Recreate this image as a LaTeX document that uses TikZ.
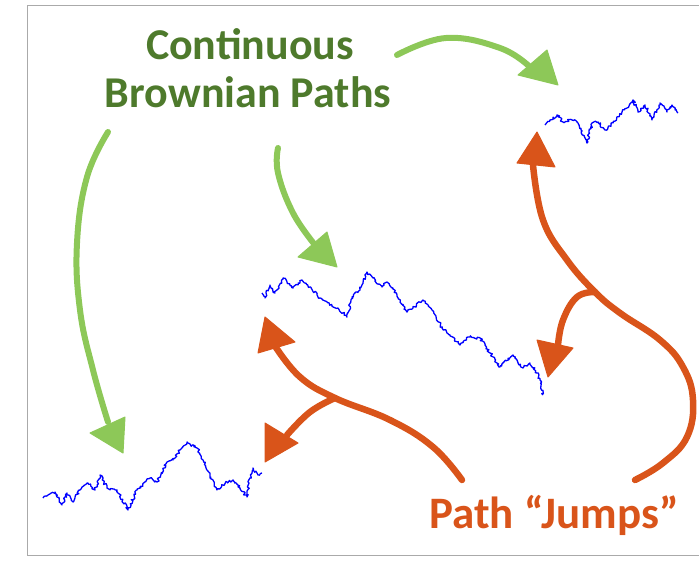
\documentclass[tikz,border=0pt]{standalone}
\usepackage{fontspec}
\setmainfont{Carlito}
\usetikzlibrary{decorations.pathmorphing}
\definecolor{arrgreen}{RGB}{141,200,88}
\definecolor{txtgreen}{RGB}{78,122,44}
\definecolor{arrorange}{RGB}{217,84,26}
\definecolor{framegray}{RGB}{170,170,170}
\begin{document}
\begin{tikzpicture}[x=1pt,y=-1pt,
  gstroke/.style={draw=arrgreen, line width=6pt, line cap=round},
  ostroke/.style={draw=arrorange, line width=6.5pt, line cap=round},
  ghead/.style={fill=arrgreen, draw=arrgreen, line width=1pt, line join=round},
  ohead/.style={fill=arrorange, draw=arrorange, line width=1pt, line join=round},
  bpath/.style={draw=blue, line width=1.3pt, line join=round, decorate,
    decoration={random steps, segment length=1.6pt, amplitude=1.4pt}},
  gtext/.style={text=txtgreen, font=\bfseries\fontsize{44}{48}\selectfont, inner sep=0pt},
  otext/.style={text=arrorange, font=\bfseries\fontsize{45}{48}\selectfont, inner sep=0pt}]
\useasboundingbox (0,0) rectangle (699,567);
\pgfmathsetseed{4242}
% frame
\draw[framegray, line width=1pt] (699,6) -- (27,6) -- (27,555) -- (699,555);

% texts
\node[gtext, anchor=base] (t1) at (250,60) {Continuous};
\node[gtext, anchor=base] (t2) at (248,108) {Brownian Paths};
\node[otext, anchor=base west] (t3) at (429,528) {Path “Jumps”};

% Brownian paths
\draw[bpath] (43,498) -- (48,495) -- (55,492) -- (62,505) -- (67,493) -- (73,502) -- (80,490)
  -- (88,483) -- (95,490) -- (100,475) -- (107,488) -- (117,490) -- (128,510) -- (137,490)
  -- (150,478) -- (157,482) -- (167,462) -- (173,460) -- (180,450) -- (188,443) -- (197,448)
  -- (203,460) -- (210,475) -- (217,490) -- (227,482) -- (233,480) -- (240,488) -- (247,497)
  -- (250,478) -- (253,468) -- (258,475) -- (262,473);
\draw[bpath] (262,293) -- (265,298) -- (270,285) -- (275,293) -- (283,278) -- (293,288)
  -- (302,280) -- (310,287) -- (320,298) -- (330,305) -- (338,308) -- (347,317) -- (352,297)
  -- (360,290) -- (367,272) -- (373,278) -- (382,287) -- (387,282) -- (397,295) -- (407,312)
  -- (413,308) -- (423,300) -- (432,310) -- (442,328) -- (450,335) -- (460,345) -- (468,337)
  -- (480,338) -- (490,353) -- (500,367) -- (513,355) -- (523,368) -- (530,363) -- (537,373)
  -- (540,380) -- (543,395);
\draw[bpath] (545,125) -- (550,120) -- (557,115) -- (563,122) -- (572,120) -- (578,123)
  -- (587,143) -- (592,123) -- (598,122) -- (605,130) -- (613,123) -- (622,112) -- (627,108)
  -- (633,100) -- (638,112) -- (645,105) -- (652,120) -- (660,103) -- (667,112) -- (672,105)
  -- (678,113);

% green arrows
\coordinate (ga0) at (397,55); \coordinate (ga1) at (530,67);
\draw[gstroke] plot[smooth, tension=0.7] coordinates {(ga0) (446,38) (500,48) (ga1)};
\fill[ghead] (518,75) -- (547,50) -- (558,85) -- cycle;

\coordinate (gb0) at (108,132); \coordinate (gb1) at (108,422);
\draw[gstroke] plot[smooth, tension=0.7] coordinates {(gb0) (87,177) (77,243) (80,310) (93,370) (gb1)};
\fill[ghead] (90,433) -- (125,417) -- (123,453) -- cycle;

\coordinate (gc0) at (278,148); \coordinate (gc1) at (315,245);
\draw[gstroke] plot[smooth, tension=0.7] coordinates {(gc0) (278,173) (293,213) (gc1)};
\fill[ghead] (298,257) -- (327,232) -- (337,267) -- cycle;

% orange arrow (left)
\coordinate (oa0) at (462,480); \coordinate (oaj) at (335,398);
\coordinate (oa1) at (275,346); \coordinate (oa2) at (287,435);
\draw[ostroke] plot[smooth, tension=0.7] coordinates {(oa0) (433,447) (390,420) (oaj) (300,377) (oa1)};
\draw[ostroke] plot[smooth, tension=0.7] coordinates {(oaj) (310,412) (oa2)};
\fill[ohead] (265,317) -- (295,342) -- (258,353) -- cycle;
\fill[ohead] (265,423) -- (298,443) -- (265,462) -- cycle;

% orange arrow (right)
\coordinate (ob0) at (635,480); \coordinate (obj) at (595,292);
\coordinate (ob1) at (533,165); \coordinate (ob2) at (558,345);
\draw[ostroke] plot[smooth, tension=0.7] coordinates {(ob0) (663,463) (687,437) (693,400) (683,367) (660,340) (620,313) (obj) (567,260) (543,220) (ob1)};
\draw[ostroke] plot[smooth, tension=0.7] coordinates {(obj) (577,297) (563,320) (ob2)};
\fill[ohead] (537,132) -- (555,167) -- (517,163) -- cycle;
\fill[ohead] (537,340) -- (573,348) -- (548,377) -- cycle;
\end{tikzpicture}
\end{document}
